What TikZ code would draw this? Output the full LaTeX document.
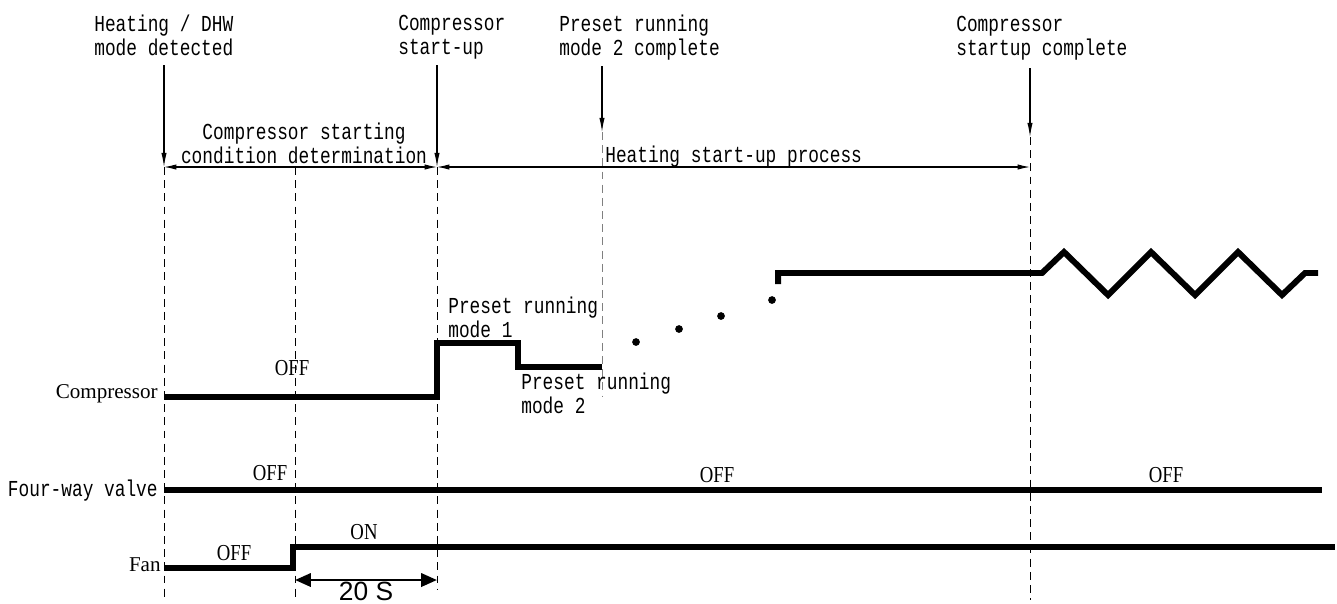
\documentclass[tikz,border=0pt]{standalone}
\usepackage{fontspec}
\setmainfont{Liberation Serif}
\newfontfamily\monofont[FakeStretch=0.78]{Liberation Mono}
\newfontfamily\condfont[FakeStretch=0.82]{Liberation Serif}
\newfontfamily\sansfont{Liberation Sans}
\usepackage{tikz}
\usetikzlibrary{arrows.meta,positioning,calc}

\begin{document}
\begin{tikzpicture}[
      x=0.02cm, y=-0.02cm,
      mono/.style={font=\monofont\fontsize{13pt}{13.6pt}\selectfont, align=left, inner sep=0pt},
      state/.style={font=\condfont\fontsize{13pt}{13pt}\selectfont, inner sep=0pt},
      chan/.style={font=\fontsize{12pt}{12pt}\selectfont, inner sep=0pt, anchor=east},
      sig/.style={line width=3.4pt},
      evt/.style={-{Latex[length=8pt,width=3pt]}, semithick},
      dim/.style={{Latex[length=7pt,width=3pt]}-{Latex[length=7pt,width=3pt]}, semithick},
      guide/.style={thin, dash pattern=on 4.5pt off 3pt},
      span/.style={{Triangle[length=9pt,width=7.5pt]}-{Triangle[length=9pt,width=7.5pt]}, line width=1.6pt}
    ]
    \useasboundingbox (0,0) rectangle (1337,603);

    % event marks
    \coordinate (t0) at (164,167);
    \coordinate (t1) at (295,167);
    \coordinate (t2) at (437,167);
    \coordinate (t3) at (602,132);
    \coordinate (t4) at (1030,137);

    % headings
    \node[mono, anchor=north west] (detect) at (94,15)  {Heating / DHW\\mode detected};
    \node[mono, anchor=north west] (start)  at (398,15) {Compressor\\start-up};
    \node[mono, anchor=north west] (mode2)  at (559,15) {Preset running\\mode 2 complete};
    \node[mono, anchor=north west] (done)   at (956,16) {Compressor\\startup complete};

    \coordinate (a0) at (164,65);
    \coordinate (a2) at (437,65);
    \coordinate (a3) at (602,66);
    \coordinate (a4) at (1030,68);
    \draw[evt] (a0) -- (t0);
    \draw[evt] (a2) -- (t2);
    \draw[evt] (a3) -- (t3);
    \draw[evt] (a4) -- (t4);

    % guide lines
    \draw[guide] (t0) -- (164,600);
    \draw[guide] (t1) -- (295,600);
    \draw[guide] (t2) -- (437,590);
    \draw[guide, gray] (t3) -- (602,397);
    \draw[guide] (t4) -- (1030,600);

    % phases
    \draw[dim] (t0) -- (t2);
    \draw[dim] (t2) -- (t2 -| t4);
    \node[mono, align=center, anchor=north] (cond) at (304,123) {Compressor starting\\condition determination};
    \node[mono, anchor=north west] (heat) at (605,146) {Heating start-up process};

    % compressor
    \node[chan] (comp) at (158,394) {Compressor};
    \draw[sig] (comp.east) ++(6,3) -- (437,397) -- (437,343) -- (518,343) -- (518,367) -- (602,367);
    \foreach \px/\py in {636/342, 679/329, 721/316, 772/300}
      \fill (\px,\py) circle (2.2pt);
    \draw[sig] (778,284) -- (778,273) -- (1042,273) -- (1064,252) -- (1108,295) -- (1151,252)
      -- (1195,295) -- (1238,252) -- (1282,295) -- (1305,273) -- (1318,273);
    \node[state] (cOff) at (292,368) {OFF};
    \node[mono, anchor=north west] (pm1) at (448,297) {Preset running\\mode 1};
    \node[mono, anchor=north west] (pm2) at (521,373) {Preset running\\mode 2};

    % four-way valve
    \node[chan, font=\monofont\fontsize{13pt}{13pt}\selectfont] (valve) at (158,491) {Four-way valve};
    \draw[sig] (164,490) -- (1322,490);
    \node[state] (vOff1) at (270,473) {OFF};
    \node[state] (vOff2) at (717,475) {OFF};
    \node[state] (vOff3) at (1166,475) {OFF};

    % fan
    \node[chan] (fan) at (161,565) {Fan};
    \draw[sig] (164,568) -- (293,568) -- (293,547) -- (1335,547);
    \node[state] (fOff) at (234,553) {OFF};
    \node[state] (fOn) at (364,532) {ON};
    \coordinate (s0) at (295,580);
    \coordinate (s1) at (437,580);
    \draw[span] (s0) -- (s1);
    \node[font=\sansfont\fontsize{15pt}{15pt}\selectfont, inner sep=0pt] (dt) at (366,591) {20 S};
  \end{tikzpicture}
\end{document}
